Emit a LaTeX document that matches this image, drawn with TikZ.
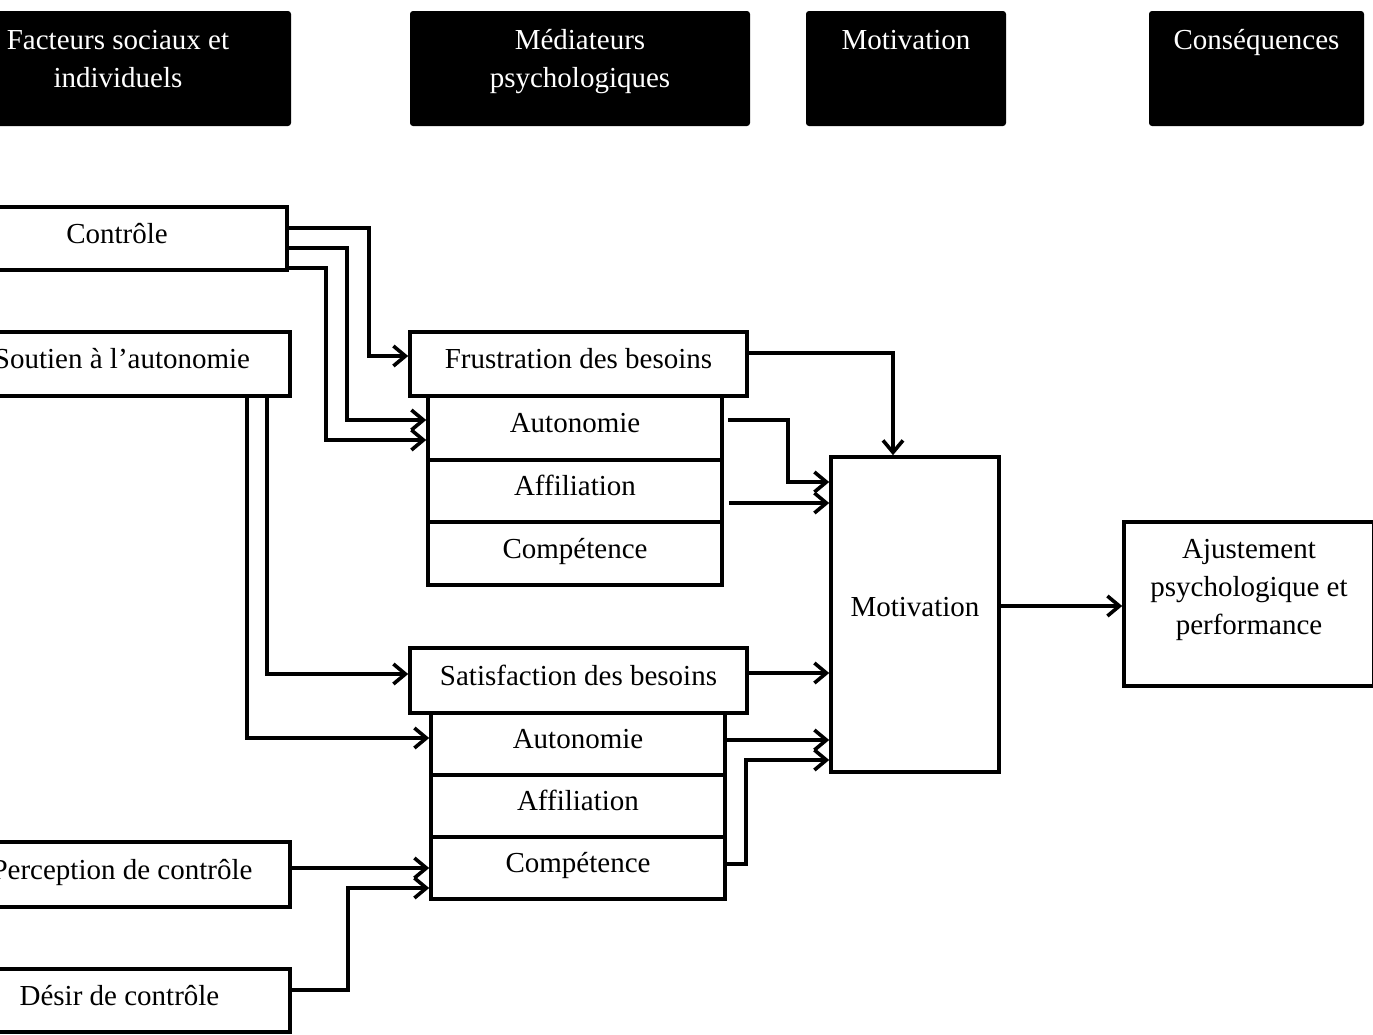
\documentclass[tikz,border=0pt]{standalone}
\usepackage{fontspec}
\setmainfont{Liberation Serif}
\usetikzlibrary{arrows.meta}
\begin{document}
\begin{tikzpicture}[x=1pt,y=-1pt,
  box/.style={draw,line width=3.6pt,inner sep=0pt,text height=20pt,text depth=11pt,font=\fontsize{29}{38}\selectfont},
  hdr/.style={fill=black,rounded corners=3pt,inner sep=0pt,text=white,font=\fontsize{29}{38}\selectfont},
  arr/.style={line width=3.6pt,-{Straight Barb[length=12pt,width=20pt]}}]
\useasboundingbox (0,0) rectangle (1373,1034);
% headers
\node[hdr,minimum width=346pt,minimum height=115pt] (h1) at (118,68.5) {\parbox[c][115pt][t]{346pt}{\centering\rule{0pt}{38pt}Facteurs sociaux et\\individuels}};
\node[hdr,minimum width=340pt,minimum height=115pt] (h2) at (580,68.5) {\parbox[c][115pt][t]{340pt}{\centering\rule{0pt}{38pt}Médiateurs\\psychologiques}};
\node[hdr,minimum width=200pt,minimum height=115pt] (h3) at (906,68.5) {\parbox[c][115pt][t]{200pt}{\centering\rule{0pt}{38pt}Motivation}};
\node[hdr,minimum width=215pt,minimum height=115pt] (h4) at (1256.5,68.5) {\parbox[c][115pt][t]{215pt}{\centering\rule{0pt}{38pt}Conséquences}};
% left column
\node[box,minimum width=340pt,minimum height=63pt] (ctrl) at (117,238.5) {Contrôle};
\node[box,minimum width=336pt,minimum height=64pt] (sout) at (122,364) {Soutien à l’autonomie};
\node[box,minimum width=336pt,minimum height=65pt] (perc) at (122,874.5) {Perception de contrôle};
\node[box,minimum width=341pt,minimum height=63pt] (desir) at (119.5,1000.5) {Désir de contrôle};
% frustration group
\node[box,minimum width=337pt,minimum height=64pt] (frust) at (578.5,364) {Frustration des besoins};
\node[box,minimum width=294pt,minimum height=64pt] (fa) at (575,428) {Autonomie};
\node[box,minimum width=294pt,minimum height=62pt] (ff) at (575,491) {Affiliation};
\node[box,minimum width=294pt,minimum height=63pt] (fc) at (575,553.5) {Compétence};
% satisfaction group
\node[box,minimum width=337pt,minimum height=65pt] (sat) at (578.5,680.5) {Satisfaction des besoins};
\node[box,minimum width=294pt,minimum height=62pt] (sa) at (578,744) {Autonomie};
\node[box,minimum width=294pt,minimum height=62pt] (sf) at (578,806) {Affiliation};
\node[box,minimum width=294pt,minimum height=62pt] (sc) at (578,868) {Compétence};
% motivation and outcome
\node[box,minimum width=168pt,minimum height=315pt,text depth=17pt] (mot) at (915,614.5) {Motivation};
\node[box,minimum width=250pt,minimum height=164pt,text height=0pt,text depth=0pt] (aj) at (1249,604) {\parbox[c][164pt][t]{250pt}{\centering\rule{0pt}{43pt}Ajustement\\psychologique et\\performance}};
% connectors
\draw[arr] ([yshift=10.5pt]ctrl.east) -| ([xshift=-39pt,yshift=8pt]frust.west) -- ([yshift=8pt]frust.west);
\draw[arr] ([yshift=-9.5pt]ctrl.east) -| ([xshift=-79pt,yshift=8pt]fa.west) -- ([yshift=8pt]fa.west);
\draw[arr] ([yshift=-29.5pt]ctrl.east) -| ([xshift=-100pt,yshift=-12pt]fa.west) -- ([yshift=-12pt]fa.west);
\draw[arr] ([xshift=145pt]sout.south) |- ([yshift=6.5pt]sat.west);
\draw[arr] ([xshift=125pt]sout.south) |- ([yshift=6pt]sa.west);
\draw[arr] ([yshift=6.5pt]perc.east) -- (sc.west);
\draw[arr] ([yshift=10.5pt]desir.east) -| ([xshift=-81pt,yshift=-20pt]sc.west) -- ([yshift=-20pt]sc.west);
\draw[arr] ([yshift=11pt]frust.east) -| ([xshift=-22pt]mot.north);
\draw[arr] ([xshift=4pt,yshift=8pt]fa.east) -| ([xshift=-41pt,yshift=132.5pt]mot.west) -- ([yshift=132.5pt]mot.west);
\draw[arr] ([xshift=5pt,yshift=-12pt]ff.east) -- ([yshift=111.5pt]mot.west);
\draw[arr] ([yshift=7.5pt]sat.east) -- ([yshift=-58.5pt]mot.west);
\draw[arr] ([yshift=4pt]sa.east) -- ([yshift=-125.5pt]mot.west);
\draw[arr] ([yshift=4pt]sc.east) -| ([xshift=-83pt,yshift=-145.5pt]mot.west) -- ([yshift=-145.5pt]mot.west);
\draw[arr] ([yshift=8.5pt]mot.east) -- ([yshift=-2pt]aj.west);
\end{tikzpicture}
\end{document}
